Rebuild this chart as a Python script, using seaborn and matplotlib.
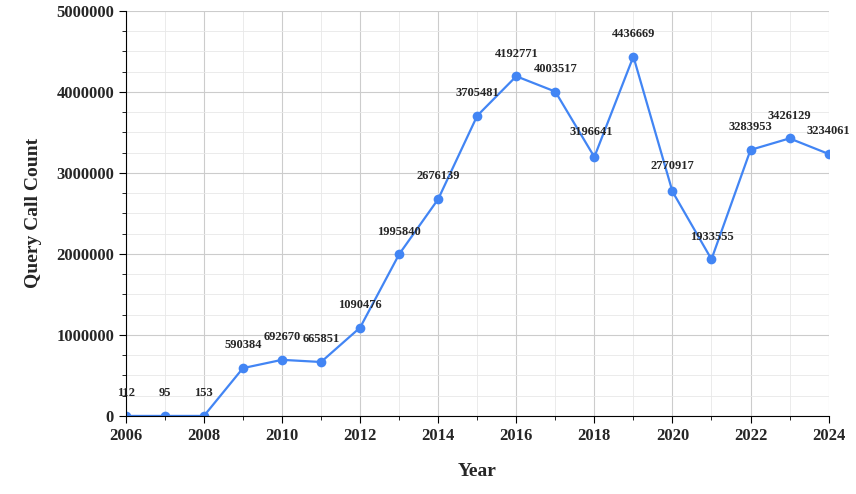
import matplotlib
matplotlib.use("Agg")
import matplotlib.pyplot as plt
import seaborn as sns
import pandas as pd
from matplotlib.ticker import MultipleLocator

years = list(range(2006, 2025))
counts = [112, 95, 153, 590384, 692670, 665851, 1090476, 1995840, 2676139, 3705481,
          4192771, 4003517, 3196641, 4436669, 2770917, 1933555, 3283953, 3426129, 3234061]
df = pd.DataFrame({"Year": years, "Count": counts})

sns.set_style("white")
plt.rcParams['font.family'] = ['Liberation Serif', 'DejaVu Serif']
fig, ax = plt.subplots(figsize=(8.56, 4.94), dpi=100)
fig.subplots_adjust(left=0.147, right=0.968, top=0.978, bottom=0.158)
color = "#4285F4"
sns.lineplot(data=df, x="Year", y="Count", ax=ax, color=color, marker="o",
             markersize=7, markeredgewidth=0, linewidth=1.6)
ax.set_xlim(2006, 2024)
ax.set_ylim(0, 5000000)
ax.xaxis.set_major_locator(MultipleLocator(2))
ax.xaxis.set_minor_locator(MultipleLocator(1))
ax.yaxis.set_major_locator(MultipleLocator(1000000))
ax.yaxis.set_minor_locator(MultipleLocator(250000))
ax.grid(which="major", color="#cccccc", linewidth=0.8)
ax.grid(which="minor", color="#e8e8e8", linewidth=0.6)
ax.set_axisbelow(True)
for s in ["top", "right"]:
    ax.spines[s].set_visible(False)
for s in ["left", "bottom"]:
    ax.spines[s].set_color("black")
ax.tick_params(which="major", direction="out", length=5, color="black", bottom=True, left=True)
ax.tick_params(which="minor", direction="out", length=3, color="black", bottom=True, left=True)
ax.ticklabel_format(axis="y", style="plain")
for lab in ax.get_xticklabels() + ax.get_yticklabels():
    lab.set_fontweight("bold")
    lab.set_fontsize(12)
ax.set_xlabel("Year", fontsize=14, fontweight="bold", labelpad=14)
ax.set_ylabel("Query Call Count", fontsize=14, fontweight="bold", labelpad=10)
for x, y in zip(years, counts):
    dx, dy = 0, 12
    if x == 2018:
        dx, dy = -2, 14
    if x == 2020:
        dx, dy = 0, 14
    ax.annotate(str(y), (x, y), xytext=(dx, dy), textcoords="offset points",
                ha="center", va="bottom", fontsize=9, fontweight="bold")
fig.savefig("out.png", dpi=100)
